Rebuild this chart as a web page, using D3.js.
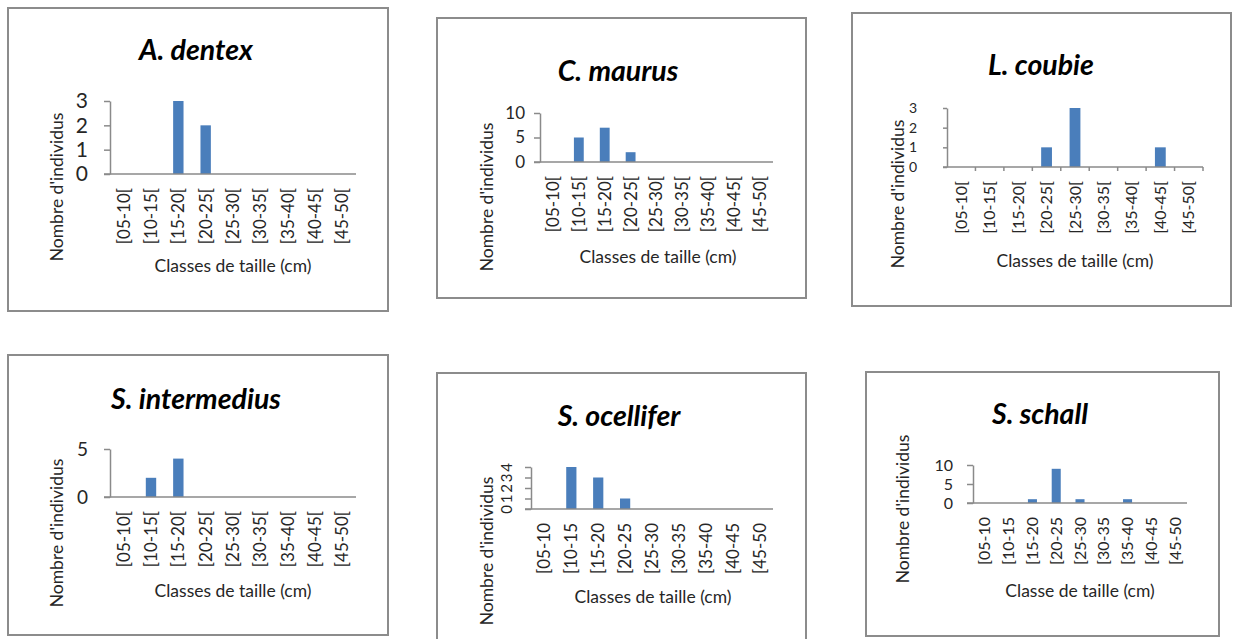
<!DOCTYPE html>
<html>
<head>
<meta charset="utf-8">
<script src="https://cdn.jsdelivr.net/npm/d3@7"></script>
<style>
  body { margin: 0; background: #ffffff; }
  svg { display: block; }
  text { font-family: Lato, "Open Sans", sans-serif; }
</style>
</head>
<body>
<svg id="fig" width="1233" height="639"></svg>
<script>
// Size classes (cm)
const sizeClasses     = ["[05-10[", "[10-15[", "[15-20[", "[20-25[", "[25-30[", "[30-35[", "[35-40[", "[40-45[", "[45-50["];
const sizeClassesOpen = ["[05-10", "[10-15", "[15-20", "[20-25", "[25-30", "[30-35", "[35-40", "[40-45", "[45-50"];

// Number of individuals per size class
const countsDentex      = [0, 0, 3, 2, 0, 0, 0, 0, 0];
const countsMaurus      = [0, 5, 7, 2, 0, 0, 0, 0, 0];
const countsCoubie      = [0, 0, 0, 1, 3, 0, 0, 1, 0];
const countsIntermedius = [0, 2, 4, 0, 0, 0, 0, 0, 0];
const countsOcellifer   = [0, 4, 3, 1, 0, 0, 0, 0, 0];
const countsSchall      = [0, 0, 1, 9, 1, 0, 1, 0, 0];

// Y-axis tick values
const ticksDentex      = [0, 1, 2, 3];
const ticksMaurus      = [0, 5, 10];
const ticksCoubie      = [0, 1, 2, 3];
const ticksIntermedius = [0, 5];
const ticksOcellifer   = [0, 1, 2, 3, 4];
const ticksSchall      = [0, 5, 10];

const speciesNames = ["A. dentex", "C. maurus", "L. coubie", "S. intermedius", "S. ocellifer", "S. schall"];
const yTitle = "Nombre d'individus";
const xTitles = ["Classes de taille (cm)", "Classes de taille (cm)", "Classes de taille (cm)",
                 "Classes de taille (cm)", "Classes de taille (cm)", "Classe de taille (cm)"];

const panels = [
  { name: speciesNames[0], counts: countsDentex,      ticks: ticksDentex,      classes: sizeClasses,     xTitle: xTitles[0] },
  { name: speciesNames[1], counts: countsMaurus,      ticks: ticksMaurus,      classes: sizeClasses,     xTitle: xTitles[1] },
  { name: speciesNames[2], counts: countsCoubie,      ticks: ticksCoubie,      classes: sizeClasses,     xTitle: xTitles[2] },
  { name: speciesNames[3], counts: countsIntermedius, ticks: ticksIntermedius, classes: sizeClasses,     xTitle: xTitles[3] },
  { name: speciesNames[4], counts: countsOcellifer,   ticks: ticksOcellifer,   classes: sizeClassesOpen, xTitle: xTitles[4] },
  { name: speciesNames[5], counts: countsSchall,      ticks: ticksSchall,      classes: sizeClassesOpen, xTitle: xTitles[5] }
];

// Frame and plot geometry for each chart
const layout = [
  { box: [8, 8, 388, 311],     x0: 110, x1: 356,  yTop: 101, y0: 174, title: [196, 60],  yFont: 21, yGap: 22, xFont: 17,
    xTitle: [233, 272], yTitleX: 57, yTitleY: 187, xTicks: false, rotY: false },
  { box: [437, 18, 806, 298],  x0: 540, x1: 773,  yTop: 113, y0: 162, title: [618, 81],  yFont: 17, yGap: 15, xFont: 17,
    xTitle: [658, 263], yTitleX: 487, yTitleY: 197, xTicks: false, rotY: false },
  { box: [852, 13, 1231, 306], x0: 947, x1: 1203, yTop: 108, y0: 167, title: [1041, 75], yFont: 14, yGap: 30, xFont: 16,
    xTitle: [1075, 267], yTitleX: 898, yTitleY: 194, xTicks: true, rotY: false },
  { box: [8, 355, 388, 635],   x0: 110, x1: 356,  yTop: 449, y0: 497, title: [196, 409], yFont: 19, yGap: 22, xFont: 17,
    xTitle: [233, 597], yTitleX: 57, yTitleY: 533, xTicks: false, rotY: false },
  { box: [437, 373, 806, 660], x0: 531, x1: 773,  yTop: 467, y0: 509, title: [619, 426], yFont: 15, yGap: 24, xFont: 17,
    xTitle: [653, 603], yTitleX: 487, yTitleY: 551, xTicks: false, rotY: true },
  { box: [866, 372, 1219, 636], x0: 973, x1: 1187, yTop: 465, y0: 503, title: [1040, 424], yFont: 16, yGap: 20, xFont: 16,
    xTitle: [1080, 597], yTitleX: 903, yTitleY: 509, xTicks: false, rotY: false }
];

const barColor = "#4a7ebb";
const axisColor = "#8a8a8a";
const frameColor = "#8c8c8c";
const textColor = "#262626";
const titleSize = 28.5;
const axisTitleSize = 17.5;

const svg = d3.select("#fig");

panels.forEach((p, i) => {
  const L = layout[i];
  const g = svg.append("g");

  // chart frame
  g.append("rect")
    .attr("x", L.box[0]).attr("y", L.box[1])
    .attr("width", L.box[2] - L.box[0]).attr("height", L.box[3] - L.box[1])
    .attr("fill", "#fff").attr("stroke", frameColor).attr("stroke-width", 2);

  const slot = d3.scaleBand().domain(p.classes).range([L.x0, L.x1]).padding(0);
  const yMax = d3.max(p.ticks);
  const y = d3.scaleLinear().domain([0, yMax]).range([L.y0, L.yTop]);

  // bars
  const barFrac = 0.38;
  g.selectAll("rect.bar")
    .data(p.counts.map((v, k) => ({ c: p.classes[k], v })))
    .join("rect")
    .attr("class", "bar")
    .attr("x", d => slot(d.c) + slot.bandwidth() * (1 - barFrac) / 2)
    .attr("width", slot.bandwidth() * barFrac)
    .attr("y", d => y(d.v))
    .attr("height", d => y(0) - y(d.v))
    .attr("fill", barColor);

  // y axis
  const tickLen = i === 2 ? 4 : 6;
  const yAxis = g.append("g")
    .attr("transform", `translate(${L.x0},0)`)
    .call(d3.axisLeft(y).tickValues(p.ticks).tickFormat(d3.format("d"))
      .tickSize(tickLen).tickSizeOuter(0).tickPadding(L.yGap - tickLen));
  yAxis.select(".domain").attr("stroke", axisColor).attr("stroke-width", 1.5);
  yAxis.selectAll(".tick line").attr("stroke", axisColor).attr("stroke-width", 1.5);
  yAxis.selectAll(".tick text")
    .attr("fill", textColor)
    .style("font-size", L.yFont + "px");
  if (L.rotY) {
    yAxis.selectAll(".tick text")
      .attr("x", null).attr("dy", null)
      .attr("text-anchor", "middle")
      .attr("transform", `translate(${-L.yGap},0) rotate(-90) translate(0,5)`);
  }

  // x axis
  const xAxis = g.append("g")
    .attr("transform", `translate(0,${L.y0})`)
    .call(d3.axisBottom(slot).tickSize(0).tickPadding(0));
  xAxis.select(".domain").remove();
  g.append("line")
    .attr("x1", L.x0 - tickLen).attr("x2", L.x1)
    .attr("y1", L.y0).attr("y2", L.y0)
    .attr("stroke", axisColor).attr("stroke-width", 1.5);
  xAxis.selectAll(".tick text")
    .attr("fill", textColor)
    .style("font-size", L.xFont + "px")
    .attr("text-anchor", "end")
    .attr("y", 0).attr("dy", "0.35em")
    .attr("transform", "translate(0,14) rotate(-90)");
  if (L.xTicks) {
    g.selectAll("line.xt")
      .data(p.classes.slice(1).concat([null]))
      .join("line")
      .attr("class", "xt")
      .attr("x1", d => d === null ? L.x1 : slot(d))
      .attr("x2", d => d === null ? L.x1 : slot(d))
      .attr("y1", L.y0).attr("y2", L.y0 + 4)
      .attr("stroke", axisColor).attr("stroke-width", 1.5);
  }

  // titles
  g.append("text")
    .attr("x", L.title[0]).attr("y", L.title[1])
    .attr("text-anchor", "middle")
    .style("font-size", titleSize + "px")
    .style("font-weight", "bold").style("font-style", "italic")
    .attr("fill", "#000")
    .text(p.name);

  g.append("text")
    .attr("x", L.xTitle[0]).attr("y", L.xTitle[1])
    .attr("text-anchor", "middle")
    .style("font-size", axisTitleSize + "px")
    .attr("fill", textColor)
    .text(p.xTitle);

  g.append("text")
    .attr("transform", `translate(${L.yTitleX},${L.yTitleY}) rotate(-90)`)
    .attr("text-anchor", "middle")
    .attr("dy", "0.35em")
    .style("font-size", axisTitleSize + "px")
    .attr("fill", textColor)
    .text(yTitle);
});
</script>
</body>
</html>
